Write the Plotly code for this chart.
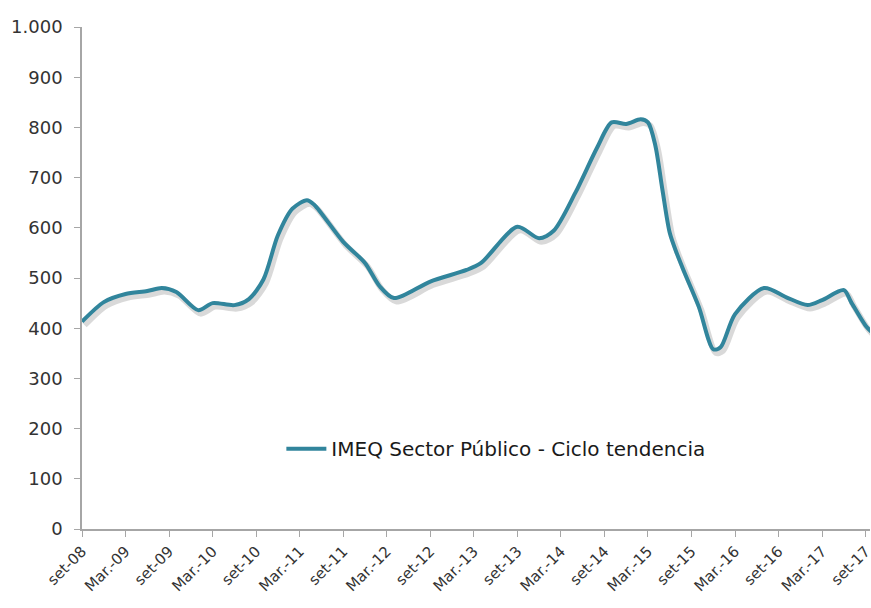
import plotly.graph_objects as go

# month index since Sep-08
months = [0, 3, 6, 9, 11, 13, 16, 18, 21, 23, 25, 27, 29, 31, 32, 36, 39, 41, 43,
          48, 53, 55, 60, 63, 65, 68, 71, 73, 75, 77, 78, 79, 80, 81, 82, 83, 85,
          87, 88, 90, 94, 97, 100, 102, 105, 106, 108, 109]
values = [413, 452, 468, 474, 480, 472, 436, 450, 446, 458, 497, 585, 638, 655, 646,
          572, 530, 484, 460, 493, 516, 530, 602, 579, 594, 670, 760, 810, 807, 816,
          810, 765, 675, 590, 548, 512, 443, 358, 362, 428, 480, 462, 446, 456, 476,
          452, 405, 390]

tick_months = [0, 6, 12, 18, 24, 30, 36, 42, 48, 54, 60, 66, 72, 78, 84, 90, 96, 102, 108]
tick_labels = ["set-08", "Mar.-09", "set-09", "Mar.-10", "set-10", "Mar.-11", "set-11",
               "Mar.-12", "set-12", "Mar.-13", "set-13", "Mar.-14", "set-14", "Mar.-15",
               "set-15", "Mar.-16", "set-16", "Mar.-17", "set-17"]
y_ticks = [0, 100, 200, 300, 400, 500, 600, 700, 800, 900, 1000]
y_labels = ["0", "100", "200", "300", "400", "500", "600", "700", "800", "900", "1.000"]

series_name = "IMEQ Sector Público - Ciclo tendencia"
color = "#31859C"

fig = go.Figure()
# drop shadow
fig.add_trace(go.Scatter(
    x=[m + 0.35 for m in months], y=[v - 7 for v in values], mode="lines",
    line=dict(color="rgba(0,0,0,0.15)", width=6, shape="spline", smoothing=0.8),
    showlegend=False, hoverinfo="skip"))
fig.add_trace(go.Scatter(
    x=months, y=values, mode="lines", name=series_name,
    line=dict(color=color, width=4, shape="spline", smoothing=0.8)))

fig.update_layout(
    width=871, height=608,
    margin=dict(l=82, r=1, t=27, b=79),
    paper_bgcolor="white", plot_bgcolor="white",
    font=dict(family="DejaVu Sans", color="#333333"),
    showlegend=True,
    legend=dict(x=0.253, y=0.16, xanchor="left", yanchor="middle",
                bgcolor="rgba(0,0,0,0)", font=dict(size=20, color="#1a1a1a"),
                itemwidth=40),
    xaxis=dict(range=[0, 108.6], tickmode="array", tickvals=tick_months,
               ticktext=tick_labels, tickangle=-45, showgrid=False,
               showline=True, linecolor="#a6a6a6", linewidth=1.5,
               ticks="outside", ticklen=6, tickcolor="#a6a6a6", automargin=False,
               ticklabeloverflow="allow",
               tickfont=dict(size=15, color="#333333"), zeroline=False),
    yaxis=dict(range=[0, 1000], tickmode="array", tickvals=y_ticks,
               ticktext=y_labels, showgrid=False,
               showline=True, linecolor="#a6a6a6", linewidth=1.5,
               ticks="outside", ticklen=6, tickcolor="#a6a6a6", automargin=False,
               ticklabelstandoff=8,
               tickfont=dict(size=18, color="#333333"), zeroline=False),
)

fig.write_html("out.html", config={"displayModeBar": False},
               post_script="document.body.style.margin='0';document.body.style.overflow='hidden';")
